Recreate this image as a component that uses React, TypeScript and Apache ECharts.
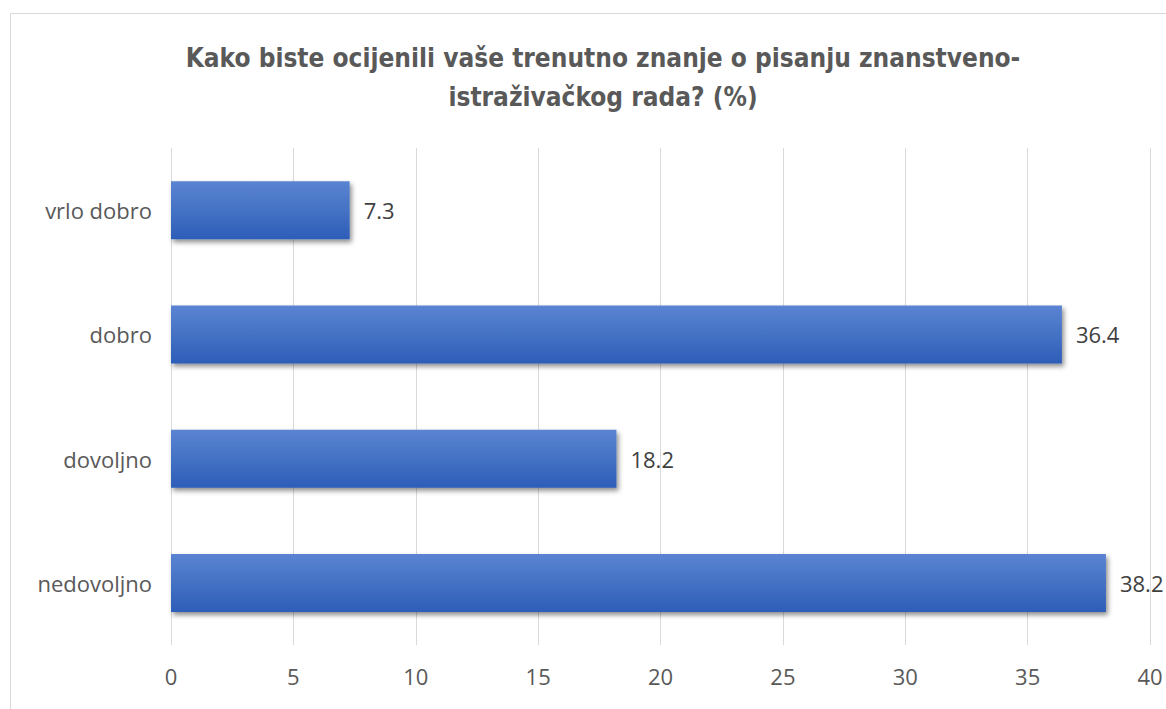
import React, { useEffect, useRef } from "react";
import * as echarts from "echarts";

const titleLines = [
  "Kako biste ocijenili vaše trenutno znanje o pisanju znanstveno-",
  "istraživačkog rada? (%)",
];
const categories = ["nedovoljno", "dovoljno", "dobro", "vrlo dobro"];
const values = [38.2, 18.2, 36.4, 7.3];
const axisMin = 0;
const axisMax = 40;
const axisStep = 5;

export default function App() {
  const ref = useRef<HTMLDivElement>(null);
  useEffect(() => {
    if (!ref.current) return;
    const chart = echarts.init(ref.current, undefined, { renderer: "svg" });
    chart.setOption({
      animation: false,
      backgroundColor: "#ffffff",
      title: {
        text: titleLines.join("\n"),
        left: 598,
        textAlign: "center",
        top: 33,
        textStyle: {
          fontFamily: "DejaVu Sans Condensed, DejaVu Sans",
          fontWeight: "bold",
          fontSize: 26,
          lineHeight: 39,
          color: "#595959",
        },
      },
      graphic: [
        {
          type: "rect",
          shape: { x: 10.5, y: 13.5, width: 1200, height: 800 },
          style: { fill: "none", stroke: "#d9d9d9", lineWidth: 1 },
          silent: true,
          z: -1,
        },
      ],
      grid: { left: 171, right: 16, top: 148, bottom: 64 },
      xAxis: {
        type: "value",
        min: axisMin,
        max: axisMax,
        interval: axisStep,
        axisLine: { show: false },
        axisTick: { show: false },
        splitLine: { show: true, lineStyle: { color: "#d9d9d9", width: 1 } },
        axisLabel: {
          margin: 20,
          fontSize: 22,
          color: "#595959",
          fontFamily: "Open Sans",
        },
      },
      yAxis: {
        type: "category",
        data: categories,
        axisLine: { show: false },
        axisTick: { show: false },
        axisLabel: {
          margin: 19,
          fontSize: 22,
          color: "#595959",
          fontFamily: "Open Sans",
        },
      },
      series: [
        {
          type: "bar",
          data: values,
          barWidth: 58,
          itemStyle: {
            color: new echarts.graphic.LinearGradient(0, 0, 0, 1, [
              { offset: 0, color: "#5b84d2" },
              { offset: 0.5, color: "#4472c4" },
              { offset: 1, color: "#2d5db8" },
            ]),
            shadowColor: "rgba(0,0,0,0.45)",
            shadowBlur: 5,
            shadowOffsetX: 2,
            shadowOffsetY: 3,
          },
          label: {
            show: true,
            position: "right",
            distance: 14,
            fontSize: 22,
            color: "#404040",
            fontFamily: "Open Sans",
          },
        },
      ],
    });
    return () => chart.dispose();
  }, []);
  return (
    <div
      ref={ref}
      style={{ position: "fixed", left: 0, top: 0, width: 1166, height: 709 }}
    />
  );
}
